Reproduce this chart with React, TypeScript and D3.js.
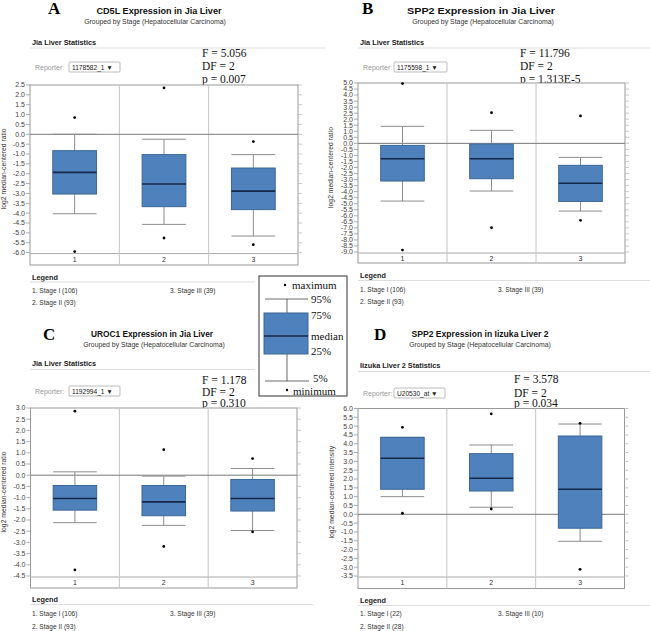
import React from "react";
import * as d3 from "d3";

// ---------- DATA ----------
const categories = ["1", "2", "3"];

// Panel A: CD5L Expression in Jia Liver
const aMax = [0.85, 2.35, -0.37];
const aHigh = [0.0, -0.25, -1.03];
const aQ3 = [-0.83, -1.03, -1.71];
const aMed = [-1.93, -2.52, -2.88];
const aQ1 = [-3.03, -3.67, -3.82];
const aLow = [-4.03, -4.57, -5.16];
const aMin = [-5.95, -5.26, -5.6];
const aTicks = [2.5, 2.0, 1.5, 1.0, 0.5, 0.0, -0.5, -1.0, -1.5, -2.0, -2.5, -3.0, -3.5, -4.0, -4.5, -5.0, -5.5, -6.0];
const aStats = ["F = 5.056", "DF = 2", "p = 0.007"];
const aLegend = ["1. Stage I (106)", "2. Stage II (93)", "3. Stage III (39)"];

// Panel B: SPP2 Expression in Jia Liver
const bMax = [4.95, 2.54, 2.27];
const bHigh = [1.41, 1.08, -1.16];
const bQ3 = [-0.17, -0.06, -1.82];
const bMed = [-1.27, -1.27, -3.31];
const bQ1 = [-3.12, -2.93, -4.81];
const bLow = [-4.78, -3.95, -5.61];
const bMin = [-8.84, -6.99, -6.38];
const bTicks = [5.0, 4.5, 4.0, 3.5, 3.0, 2.5, 2.0, 1.5, 1.0, 0.5, 0.0, -0.5, -1.0, -1.5, -2.0, -2.5, -3.0, -3.5, -4.0, -4.5, -5.0, -5.5, -6.0, -6.5, -7.0, -7.5, -8.0, -8.5, -9.0];
const bStats = ["F = 11.796", "DF = 2", "p = 1.313E-5"];
const bLegend = ["1. Stage I (106)", "2. Stage II (93)", "3. Stage III (39)"];

// Panel C: UROC1 Expression in Jia Liver
const cMax = [2.86, 1.14, 0.74];
const cHigh = [0.15, -0.04, 0.3];
const cQ3 = [-0.46, -0.46, -0.19];
const cMed = [-1.04, -1.19, -1.04];
const cQ1 = [-1.56, -1.81, -1.6];
const cLow = [-2.12, -2.24, -2.47];
const cMin = [-4.23, -3.18, -2.53];
const cTicks = [3.0, 2.5, 2.0, 1.5, 1.0, 0.5, 0.0, -0.5, -1.0, -1.5, -2.0, -2.5, -3.0, -3.5, -4.0, -4.5];
const cStats = ["F = 1.178", "DF = 2", "p = 0.310"];
const cLegend = ["1. Stage I (106)", "2. Stage II (93)", "3. Stage III (39)"];

// Panel D: SPP2 Expression in Iizuka Liver 2
const dMax = [4.93, 5.7, 5.16];
const dHigh = [4.35, 3.93, 5.12];
const dQ3 = [4.37, 3.44, 4.44];
const dMed = [3.18, 2.04, 1.42];
const dQ1 = [1.42, 1.32, -0.79];
const dLow = [1.0, 0.4, -1.53];
const dMin = [0.06, 0.3, -3.12];
const dTicks = [6.0, 5.5, 5.0, 4.5, 4.0, 3.5, 3.0, 2.5, 2.0, 1.5, 1.0, 0.5, 0.0, -0.5, -1.0, -1.5, -2.0, -2.5, -3.0, -3.5];
const dStats = ["F = 3.578", "DF = 2", "p = 0.034"];
const dLegend = ["1. Stage I (22)", "2. Stage II (28)", "3. Stage III (10)"];

const keyLabels = ["maximum", "95%", "75%", "median", "25%", "5%", "minimum"];

// ---------- STYLE ----------
const SANS = "'Liberation Sans', Arial, sans-serif";
const SERIF = "'Liberation Serif', 'Times New Roman', serif";
const BOX_FILL = "#4f81bd";
const BOX_STROKE = "#3a6796";
const MED = "#15294a";
const WHISK = "#8c8c8c";

type Cfg = {
  letter: string; title: string; subtitle: string; heading: string; reporter: string; yLabel: string;
  stats: string[]; legend: string[]; ticks: number[];
  max: number[]; high: number[]; q3: number[]; med: number[]; q1: number[]; low: number[]; min: number[];
  L: number; R: number; top: number; bottom: number; frameBottom: number;
  letterX: number; letterY: number; titleX: number; titleW: number; titleY: number; subX: number; subY: number;
  headX: number; headY: number; headLineY: number; headLineEnd: number;
  statX: number; statY: number[]; repY: number; repBoxX: number; repBoxW: number;
  legY: number; legLineY: number; legLineEnd: number; itemY: number[]; item3X: number; yLabelX: number;
};

function Panel({ c }: { c: Cfg }) {
  const y = d3.scaleLinear().domain([c.ticks[c.ticks.length - 1], c.ticks[0]]).range([c.bottom, c.top]);
  const x = d3.scaleBand().domain(categories).range([c.L, c.R]).padding(0);
  const bw = x.bandwidth() * 0.49;
  const dataBottom = c.bottom + 1;
  return (
    <g>
      <text x={c.letterX} y={c.letterY} fontFamily={SERIF} fontWeight="bold" fontSize={17} fill="#000">{c.letter}</text>
      <text x={c.titleX} y={c.titleY} textAnchor="middle" fontFamily={SANS} fontWeight="bold" fontSize={9} fill="#111" textLength={c.titleW} lengthAdjust="spacingAndGlyphs">{c.title}</text>
      <text x={c.subX} y={c.subY} textAnchor="middle" fontFamily={SANS} fontSize={6.9} fill="#333">{c.subtitle}</text>
      <text x={c.headX} y={c.headY} fontFamily={SANS} fontWeight="bold" fontSize={7.3} fill="#222">{c.heading}</text>
      <line x1={c.L} x2={c.headLineEnd} y1={c.headLineY} y2={c.headLineY} stroke="#ddd" strokeWidth={1} />
      {c.stats.map((s, i) => (
        <text key={i} x={c.statX} y={c.statY[i]} fontFamily={SERIF} fontSize={11.5} fill="#111">{s}</text>
      ))}
      <text x={c.headX + 3} y={c.repY + 2.5} fontFamily={SANS} fontSize={7} fill="#999">Reporter:</text>
      <rect x={c.repBoxX} y={c.repY - 5} width={c.repBoxW} height={10} fill="#fff" stroke="#aaa" strokeWidth={0.8} rx={1} />
      <text x={c.repBoxX + 3} y={c.repY + 2.5} fontFamily={SANS} fontSize={6.6} fill="#222">{c.reporter + " \u25BC"}</text>

      {/* plot frame */}
      <rect x={c.L} y={c.top} width={c.R - c.L} height={c.frameBottom - c.top} fill="#fff" stroke="#999" strokeWidth={1} />
      <line x1={c.L} x2={c.R} y1={dataBottom} y2={dataBottom} stroke="#aaa" strokeWidth={1} />
      {categories.slice(1).map((k) => (
        <line key={k} x1={x(k)!} x2={x(k)!} y1={c.top} y2={c.frameBottom} stroke="#c4c4c4" strokeWidth={1} />
      ))}
      {c.ticks.map((t) => (
        <g key={t}>
          <line x1={c.L - 4} x2={c.L} y1={y(t)} y2={y(t)} stroke="#999" strokeWidth={0.8} />
          <line x1={c.R} x2={c.R + 4} y1={y(t)} y2={y(t)} stroke="#bbb" strokeWidth={0.8} />
          <text x={c.L - 5} y={y(t) + 2.4} textAnchor="end" fontFamily={SANS} fontSize={7} fill="#444">{t.toFixed(1)}</text>
        </g>
      ))}
      <text transform={`translate(${c.yLabelX},${(c.top + c.bottom) / 2}) rotate(-90)`} textAnchor="middle" fontFamily={SANS} fontSize={6.8} fill="#333">{c.yLabel}</text>
      <line x1={c.L} x2={c.R} y1={y(0)} y2={y(0)} stroke="#777" strokeWidth={1} />
      {categories.map((k, i) => {
        const cx = x(k)! + x.bandwidth() / 2;
        const x0 = cx - bw / 2;
        return (
          <g key={k}>
            <line x1={cx} x2={cx} y1={y(c.high[i])} y2={y(c.low[i])} stroke={WHISK} strokeWidth={1} />
            <line x1={x0} x2={x0 + bw} y1={y(c.high[i])} y2={y(c.high[i])} stroke={WHISK} strokeWidth={1} />
            <line x1={x0} x2={x0 + bw} y1={y(c.low[i])} y2={y(c.low[i])} stroke={WHISK} strokeWidth={1} />
            <rect x={x0} y={y(c.q3[i])} width={bw} height={y(c.q1[i]) - y(c.q3[i])} fill={BOX_FILL} stroke={BOX_STROKE} strokeWidth={1} />
            <line x1={x0} x2={x0 + bw} y1={y(c.med[i])} y2={y(c.med[i])} stroke={MED} strokeWidth={1.6} />
            <circle cx={cx} cy={y(c.max[i])} r={1.4} fill="#000" />
            <circle cx={cx} cy={y(c.min[i])} r={1.4} fill="#000" />
            <text x={cx} y={(dataBottom + c.frameBottom) / 2 + 2.5} textAnchor="middle" fontFamily={SANS} fontSize={7} fill="#333">{k}</text>
          </g>
        );
      })}

      {/* legend */}
      <text x={c.headX} y={c.legY} fontFamily={SANS} fontWeight="bold" fontSize={7.3} fill="#222">Legend</text>
      <line x1={c.L} x2={c.legLineEnd} y1={c.legLineY} y2={c.legLineY} stroke="#ddd" strokeWidth={1} />
      <text x={c.headX} y={c.itemY[0]} fontFamily={SANS} fontSize={6.6} fill="#333">{c.legend[0]}</text>
      <text x={c.headX} y={c.itemY[1]} fontFamily={SANS} fontSize={6.6} fill="#333">{c.legend[1]}</text>
      <text x={c.item3X} y={c.itemY[0]} fontFamily={SANS} fontSize={6.6} fill="#333">{c.legend[2]}</text>
    </g>
  );
}

const panelA: Cfg = {
  letter: "A", title: "CD5L Expression in Jia Liver", subtitle: "Grouped by Stage (Hepatocellular Carcinoma)",
  heading: "Jia Liver Statistics", reporter: "1178582_1", yLabel: "log2 median-centered ratio",
  stats: aStats, legend: aLegend, ticks: aTicks,
  max: aMax, high: aHigh, q3: aQ3, med: aMed, q1: aQ1, low: aLow, min: aMin,
  L: 30, R: 298, top: 85, bottom: 252.6, frameBottom: 265,
  letterX: 48, letterY: 14, titleX: 159, titleW: 125, titleY: 14, subX: 155, subY: 23.5,
  headX: 32, headY: 44.5, headLineY: 48, headLineEnd: 325,
  statX: 202, statY: [57, 70, 83], repY: 67, repBoxX: 69, repBoxW: 51,
  legY: 279.5, legLineY: 282, legLineEnd: 255, itemY: [292.5, 305], item3X: 170, yLabelX: 6,
};

const panelB: Cfg = {
  letter: "B", title: "SPP2 Expression in Jia Liver", subtitle: "Grouped by Stage (Hepatocellular Carcinoma)",
  heading: "Jia Liver Statistics", reporter: "1175598_1", yLabel: "log2 median-centered ratio",
  stats: bStats, legend: bLegend, ticks: bTicks,
  max: bMax, high: bHigh, q3: bQ3, med: bMed, q1: bQ1, low: bLow, min: bMin,
  L: 358, R: 625, top: 83, bottom: 252, frameBottom: 263,
  letterX: 362, letterY: 14, titleX: 481, titleW: 148, titleY: 14, subX: 483, subY: 23.5,
  headX: 360, headY: 44.5, headLineY: 48, headLineEnd: 650,
  statX: 520, statY: [57, 70, 83], repY: 67, repBoxX: 394, repBoxW: 53,
  legY: 278, legLineY: 280.5, legLineEnd: 650, itemY: [291.5, 303.5], item3X: 498, yLabelX: 333,
};

const panelC: Cfg = {
  letter: "C", title: "UROC1 Expression in Jia Liver", subtitle: "Grouped by Stage (Hepatocellular Carcinoma)",
  heading: "Jia Liver Statistics", reporter: "1192994_1", yLabel: "log2 median-centered ratio",
  stats: cStats, legend: cLegend, ticks: cTicks,
  max: cMax, high: cHigh, q3: cQ3, med: cMed, q1: cQ1, low: cLow, min: cMin,
  L: 30.5, R: 297, top: 408, bottom: 576, frameBottom: 588,
  letterX: 43, letterY: 340, titleX: 152, titleW: 122, titleY: 336.5, subX: 154, subY: 346.5,
  headX: 32, headY: 366, headLineY: 369.5, headLineEnd: 255,
  statX: 202, statY: [384, 395.5, 407], repY: 391, repBoxX: 69, repBoxW: 51,
  legY: 602, legLineY: 604.5, legLineEnd: 313, itemY: [615.5, 628.5], item3X: 170, yLabelX: 6,
};

const panelD: Cfg = {
  letter: "D", title: "SPP2 Expression in Iizuka Liver 2", subtitle: "Grouped by Stage (Hepatocellular Carcinoma)",
  heading: "Iizuka Liver 2 Statistics", reporter: "U20530_at", yLabel: "log2 median-centered intensity",
  stats: dStats, legend: dLegend, ticks: dTicks,
  max: dMax, high: dHigh, q3: dQ3, med: dMed, q1: dQ1, low: dLow, min: dMin,
  L: 358, R: 624.5, top: 408.5, bottom: 576, frameBottom: 588.5,
  letterX: 374, letterY: 340, titleX: 480, titleW: 137, titleY: 336.5, subX: 480, subY: 346.5,
  headX: 360, headY: 367.5, headLineY: 371.5, headLineEnd: 650,
  statX: 514, statY: [383, 396.5, 407], repY: 393, repBoxX: 394, repBoxW: 51,
  legY: 603, legLineY: 605.5, legLineEnd: 650, itemY: [615.5, 628.5], item3X: 498, yLabelX: 334,
};

function KeyBox() {
  const cx = 287;
  const bx0 = 264, bx1 = 308;
  const ty = { max: 285, p95: 299, q3: 313, med: 336, q1: 354, p5: 381, min: 391 };
  return (
    <g>
      <rect x={259} y={276} width={88} height={120} fill="#fff" stroke="#333" strokeWidth={1} />
      <circle cx={cx - 2} cy={ty.max} r={1.2} fill="#000" />
      <text x={292} y={ty.max + 3.5} fontFamily={SERIF} fontSize={11} fill="#111">{keyLabels[0]}</text>
      <line x1={265} x2={308} y1={ty.p95} y2={ty.p95} stroke="#444" strokeWidth={0.8} />
      <line x1={cx} x2={cx} y1={ty.p95} y2={ty.p5} stroke="#444" strokeWidth={0.8} />
      <text x={311} y={ty.p95 + 3.5} fontFamily={SERIF} fontSize={11} fill="#111">{keyLabels[1]}</text>
      <rect x={bx0} y={ty.q3} width={bx1 - bx0} height={ty.q1 - ty.q3} fill={BOX_FILL} stroke={BOX_STROKE} strokeWidth={1} />
      <line x1={bx0} x2={bx1} y1={ty.med} y2={ty.med} stroke={MED} strokeWidth={1.4} />
      <text x={311} y={ty.q3 + 6} fontFamily={SERIF} fontSize={11} fill="#111">{keyLabels[2]}</text>
      <text x={311} y={ty.med + 4} fontFamily={SERIF} fontSize={11} fill="#111">{keyLabels[3]}</text>
      <text x={311} y={ty.q1 + 1} fontFamily={SERIF} fontSize={11} fill="#111">{keyLabels[4]}</text>
      <line x1={265} x2={309} y1={ty.p5} y2={ty.p5} stroke="#444" strokeWidth={0.8} />
      <text x={313} y={ty.p5 + 1} fontFamily={SERIF} fontSize={11} fill="#111">{keyLabels[5]}</text>
      <circle cx={cx} cy={ty.min - 1} r={1.2} fill="#000" />
      <text x={293} y={ty.min + 3.5} fontFamily={SERIF} fontSize={11} fill="#111">{keyLabels[6]}</text>
    </g>
  );
}

export default function App() {
  return (
    <svg width={650} height={631} style={{ position: "absolute", left: 0, top: 0, background: "#fff" }}>
      <rect x={0} y={0} width={650} height={631} fill="#fff" />
      <Panel c={panelA} />
      <Panel c={panelB} />
      <Panel c={panelC} />
      <Panel c={panelD} />
      <KeyBox />
    </svg>
  );
}
